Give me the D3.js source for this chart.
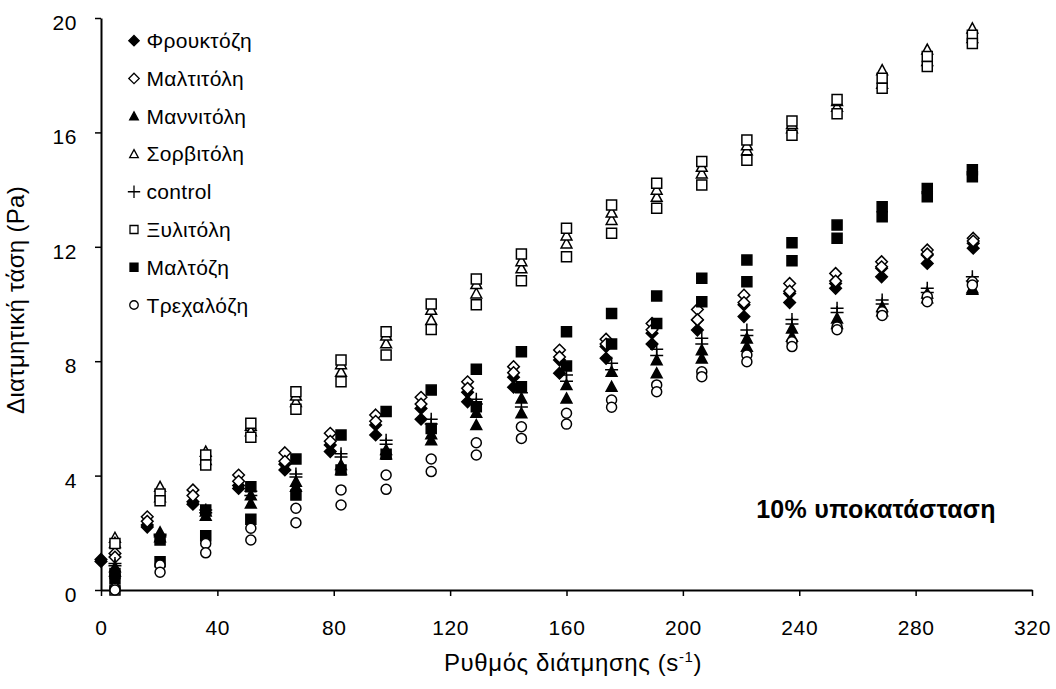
<!DOCTYPE html>
<html lang="el">
  <head>
    <meta charset="utf-8" />
    <title>Διατμητική τάση</title>
    <script src="https://d3js.org/d3.v7.min.js" charset="utf-8"></script>
    <style>
      body { margin: 0; background: #fff; }
      text { font-family: "Liberation Sans", Arial, sans-serif; fill: #000; }
    </style>
  </head>
  <body>
    <div id="graph-container"></div>
    <script type="text/javascript">
      // shear rates (s-1)
      const shearRate = [4.8, 20.3, 36, 51.5, 67, 82.5, 98, 113.5, 129, 144.5, 160, 175.5, 191, 206.5, 222, 237.5, 253, 268.5, 284, 299.5];
      const shearFru = [0, 15.9, 31.6, 47.3, 63.2, 78.8, 94.4, 110, 126, 141.8, 157.6, 173.6, 189.4, 205, 221, 236.7, 252.5, 268.3, 284, 299.8];
      const shearMal = [4.8, 15.9, 31.6, 47.3, 63.2, 78.8, 94.4, 110, 126, 141.8, 157.6, 173.6, 189.4, 205, 221, 236.7, 252.5, 268.3, 284, 299.8];

      // stress (Pa), up and down curves
      const fruUp = [1.07, 2.27, 3.09, 3.65, 4.4, 5.07, 5.77, 6.35, 6.91, 7.44, 8.04, 8.51, 8.98, 9.44, 9.97, 10.37, 10.72, 11.25, 11.71, 12.12];
      const fruDown = [1.0, 2.2, 3.0, 3.55, 4.2, 4.84, 5.42, 5.97, 6.58, 7.09, 7.58, 8.1, 8.6, 9.09, 9.56, 10.05, 10.55, 10.95, 11.42, 11.95];
      const malUp = [1.28, 2.56, 3.5, 4.02, 4.8, 5.48, 6.12, 6.74, 7.28, 7.81, 8.39, 8.77, 9.32, 9.81, 10.31, 10.72, 11.07, 11.48, 11.89, 12.3];
      const malDown = [1.15, 2.4, 3.3, 3.8, 4.5, 5.2, 5.9, 6.5, 7.05, 7.6, 8.15, 8.6, 9.1, 9.45, 10.05, 10.45, 10.8, 11.3, 11.75, 12.2];
      const manUp = [0.8, 2.02, 2.75, 3.32, 3.79, 4.37, 4.9, 5.45, 6.2, 6.7, 7.17, 7.63, 8.04, 8.39, 8.8, 9.15, 9.5, 9.9, 10.37, 10.55];
      const manDown = [0.65, 1.85, 2.6, 3.03, 3.61, 4.2, 4.75, 5.24, 5.77, 6.18, 6.7, 7.11, 7.58, 8.1, 8.51, 8.86, 9.3, 9.75, 10.2, 10.5];
      const sorUp = [1.83, 3.61, 4.84, 5.75, 6.58, 7.63, 8.63, 9.44, 10.37, 11.25, 12.12, 12.94, 13.75, 14.57, 15.38, 16.15, 16.9, 18.18, 18.9, 19.64];
      const sorDown = [1.65, 3.25, 4.55, 5.55, 6.8, 7.9, 8.9, 9.8, 10.7, 11.5, 12.4, 13.2, 14.0, 14.8, 15.55, 16.3, 17.1, 17.7, 18.5, 19.3];
      const ctrlUp = [0.93, 1.95, 2.8, 3.45, 4.06, 4.76, 5.24, 5.97, 6.67, 6.9, 7.52, 7.93, 8.42, 8.8, 9.09, 9.46, 9.85, 10.14, 10.55, 10.95];
      const ctrlDown = [0.85, 1.9, 2.7, 3.3, 3.95, 4.65, 5.1, 5.8, 6.5, 6.4, 7.3, 7.7, 8.2, 8.6, 8.9, 9.3, 9.7, 10.0, 10.4, 10.8];
      const xylUp = [1.63, 3.36, 4.72, 5.83, 6.93, 8.04, 9.03, 10.0, 10.87, 11.75, 12.65, 13.46, 14.22, 14.98, 15.73, 16.4, 17.15, 17.89, 18.65, 19.4];
      const xylDown = [0.0, 3.12, 4.37, 5.34, 6.32, 7.28, 8.22, 9.11, 9.97, 10.81, 11.65, 12.47, 13.35, 14.16, 15.03, 15.9, 16.65, 17.54, 18.3, 19.11];
      const maltUp = [0.58, 1.75, 2.8, 3.61, 4.58, 5.42, 6.24, 6.99, 7.72, 8.33, 9.03, 9.67, 10.28, 10.9, 11.54, 12.14, 12.76, 13.4, 14.04, 14.69];
      const maltDown = [0.41, 0.99, 1.9, 2.47, 3.32, 4.2, 4.75, 5.65, 6.41, 7.11, 7.83, 8.6, 9.32, 10.08, 10.78, 11.51, 12.3, 13.05, 13.75, 14.45];
      const treUp = [0.05, 0.87, 1.63, 2.16, 2.86, 3.5, 4.02, 4.58, 5.15, 5.71, 6.18, 6.64, 7.17, 7.63, 8.22, 8.68, 9.2, 9.73, 10.26, 10.78];
      const treDown = [0.0, 0.62, 1.3, 1.75, 2.35, 2.97, 3.52, 4.14, 4.72, 5.3, 5.8, 6.39, 6.93, 7.46, 7.98, 8.51, 9.1, 9.6, 10.08, 10.66];

      const seriesNames = ["Φρουκτόζη", "Μαλτιτόλη", "Μαννιτόλη", "Σορβιτόλη", "control", "Ξυλιτόλη", "Μαλτόζη", "Τρεχαλόζη"];
      const xTicks = [0, 40, 80, 120, 160, 200, 240, 280, 320];
      const yTicks = [0, 4, 8, 12, 16, 20];

      const series = [
        { name: seriesNames[0], x: shearFru, up: fruUp, down: fruDown, shape: "diamond", filled: true },
        { name: seriesNames[1], x: shearMal, up: malUp, down: malDown, shape: "diamond", filled: false },
        { name: seriesNames[2], x: shearRate, up: manUp, down: manDown, shape: "triangle", filled: true },
        { name: seriesNames[3], x: shearRate, up: sorUp, down: sorDown, shape: "triangle", filled: false },
        { name: seriesNames[4], x: shearRate, up: ctrlUp, down: ctrlDown, shape: "plus", filled: false },
        { name: seriesNames[5], x: shearRate, up: xylUp, down: xylDown, shape: "square", filled: false },
        { name: seriesNames[6], x: shearRate, up: maltUp, down: maltDown, shape: "square", filled: true },
        { name: seriesNames[7], x: shearRate, up: treUp, down: treDown, shape: "circle", filled: false },
      ];

      const cW = 1056, cH = 689;
      const pLeft = 101, pRight = 1032, pTop = 18, pBottom = 590;

      // marker path, s = half size
      const markerPath = (shape, s) => {
        if (shape === "diamond") return `M0,${-s}L${s},0L0,${s}L${-s},0Z`;
        if (shape === "square") return `M${-s},${-s}H${s}V${s}H${-s}Z`;
        if (shape === "triangle") return `M0,${-s}L${s},${s * 0.85}L${-s},${s * 0.85}Z`;
        if (shape === "plus") return `M${-s},0H${s}M0,${-s}V${s}`;
        return d3.arc()({ innerRadius: 0, outerRadius: s, startAngle: 0, endAngle: 2 * Math.PI });
      };
      const markerSize = { diamond: 5.8, square: 5, triangle: 5.4, plus: 6.5, circle: 5 };
      const legendScale = { diamond: 0.9, square: 0.8, triangle: 0.8, plus: 0.95, circle: 0.85 };

      const svg = d3
        .select("#graph-container")
        .append("svg")
        .attr("width", cW)
        .attr("height", cH);

      const xScale = d3.scaleLinear().domain([0, 320]).range([pLeft, pRight]);
      const yScale = d3.scaleLinear().domain([0, 20]).range([pBottom, pTop]);

      //axes
      const xAxis = svg
        .append("g")
        .attr("transform", `translate(0,${pBottom})`)
        .call(d3.axisBottom(xScale).tickValues(xTicks).tickSize(6).tickSizeOuter(0).tickPadding(24));
      const yAxis = svg
        .append("g")
        .attr("transform", `translate(${pLeft},0)`)
        .call(d3.axisLeft(yScale).tickValues(yTicks).tickSize(6).tickSizeOuter(0).tickPadding(18));

      [xAxis, yAxis].forEach((g) => {
        g.select(".domain").attr("stroke", "#000").attr("stroke-width", 2);
        g.selectAll(".tick line").attr("stroke", "#000").attr("stroke-width", 1.5);
        g.selectAll(".tick text")
          .attr("font-family", "Liberation Sans, Arial, sans-serif")
          .attr("font-size", 21)
          .attr("letter-spacing", 0.6)
          .attr("fill", "#000");
      });
      yAxis.selectAll(".tick text").attr("dy", "0.55em");

      //axis titles
      const xTitle = svg
        .append("text")
        .attr("x", 573)
        .attr("y", 671)
        .attr("text-anchor", "middle")
        .attr("font-size", 24)
        .attr("letter-spacing", 0.6);
      xTitle.append("tspan").text("Ρυθμός διάτμησης (s");
      xTitle.append("tspan").attr("dy", -9).attr("font-size", 15).text("-1");
      xTitle.append("tspan").attr("dy", 9).text(")");

      svg
        .append("text")
        .attr("transform", "translate(24,300) rotate(-90)")
        .attr("text-anchor", "middle")
        .attr("font-size", 24)
        .attr("letter-spacing", 0.3)
        .text("Διατμητική τάση (Pa)");

      svg
        .append("text")
        .attr("x", 876)
        .attr("y", 518)
        .attr("text-anchor", "middle")
        .attr("font-size", 25)
        .attr("font-weight", "bold")
        .attr("letter-spacing", 0.3)
        .text("10% υποκατάσταση");

      //data
      series.forEach((s) => {
        const pts = [];
        s.x.forEach((x, i) => {
          pts.push([x, s.up[i]]);
          pts.push([x, s.down[i]]);
        });
        svg
          .append("g")
          .selectAll("path")
          .data(pts)
          .enter()
          .append("path")
          .attr("transform", (d) => `translate(${xScale(d[0])},${yScale(d[1])})`)
          .attr("d", markerPath(s.shape, markerSize[s.shape]))
          .attr("fill", s.filled ? "#000" : s.shape === "plus" ? "none" : "#fff")
          .attr("stroke", "#000")
          .attr("stroke-width", 1.5);
      });

      //legend
      const legend = svg
        .append("g")
        .selectAll("g")
        .data(series)
        .enter()
        .append("g")
        .attr("transform", (d, i) => `translate(134,${40.7 + i * 37.76})`);
      legend
        .append("path")
        .attr("d", (d) => markerPath(d.shape, markerSize[d.shape] * legendScale[d.shape]))
        .attr("fill", (d) => (d.filled ? "#000" : d.shape === "plus" ? "none" : "#fff"))
        .attr("stroke", "#000")
        .attr("stroke-width", 1.3);
      legend
        .append("text")
        .attr("x", 12.5)
        .attr("y", 7.5)
        .attr("font-size", 21)
        .attr("letter-spacing", 0.3)
        .text((d) => d.name);
    </script>
  </body>
</html>
